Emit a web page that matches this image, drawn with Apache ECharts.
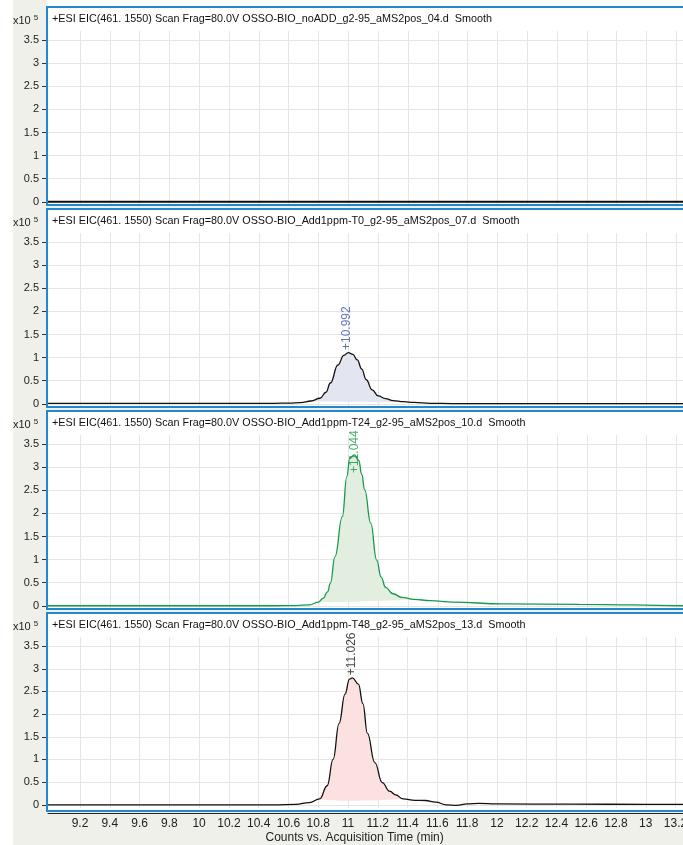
<!DOCTYPE html>
<html><head><meta charset="utf-8">
<script src="https://cdn.jsdelivr.net/npm/echarts@6/dist/echarts.min.js"></script>
<style>html,body{margin:0;padding:0;background:#fff;overflow:hidden;width:683px;height:845px}#c{width:720px;height:845px}</style>
</head><body><div id="c"></div><script>
// ---- data ----
const panelTitles = [
  '+ESI EIC(461. 1550) Scan Frag=80.0V OSSO-BIO_noADD_g2-95_aMS2pos_04.d  Smooth',
  '+ESI EIC(461. 1550) Scan Frag=80.0V OSSO-BIO_Add1ppm-T0_g2-95_aMS2pos_07.d  Smooth',
  '+ESI EIC(461. 1550) Scan Frag=80.0V OSSO-BIO_Add1ppm-T24_g2-95_aMS2pos_10.d  Smooth',
  '+ESI EIC(461. 1550) Scan Frag=80.0V OSSO-BIO_Add1ppm-T48_g2-95_aMS2pos_13.d  Smooth'
];
const xTickValues = [9.2,9.4,9.6,9.8,10,10.2,10.4,10.6,10.8,11,11.2,11.4,11.6,11.8,12,12.2,12.4,12.6,12.8,13,13.2,13.4];
const yTickValues = [0,0.5,1,1.5,2,2.5,3,3.5];
const xName = 'Counts vs. Acquisition Time (min)';

const time1 = [8.985, 10, 11, 12, 13, 13.44];
const val1  = [0, 0, 0, 0, 0, 0];

const time2 = [8.985, 9.5, 10.0, 10.5, 10.6, 10.68, 10.75, 10.81, 10.85, 10.88, 10.93, 10.97, 11.0, 11.03, 11.06, 11.09, 11.12, 11.16, 11.2, 11.25, 11.3, 11.37, 11.44, 11.55, 11.7, 12.0, 12.5, 13.0, 13.44];
const val2  = [0.01, 0.01, 0.01, 0.01, 0.015, 0.025, 0.06, 0.12, 0.25, 0.45, 0.84, 1.05, 1.11, 1.07, 0.95, 0.75, 0.52, 0.3, 0.17, 0.11, 0.07, 0.045, 0.03, 0.01, 0.005, 0.005, 0.005, 0.005, 0.005];

const time3 = [8.985, 9.5, 10.0, 10.5, 10.65, 10.74, 10.8, 10.83, 10.86, 10.88, 10.91, 10.96, 10.99, 11.01, 11.04, 11.07, 11.09, 11.11, 11.15, 11.19, 11.22, 11.25, 11.3, 11.36, 11.44, 11.55, 11.7, 12.04, 12.55, 12.9, 13.25, 13.44];
const val3  = [0, 0, 0, 0, 0.005, 0.02, 0.08, 0.16, 0.3, 0.49, 1.06, 1.93, 2.8, 3.2, 3.27, 3.15, 2.85, 2.51, 1.79, 0.99, 0.62, 0.4, 0.26, 0.18, 0.14, 0.11, 0.08, 0.04, 0.03, 0.02, 0.0, 0.0];

const time4 = [8.985, 9.5, 10.0, 10.5, 10.65, 10.74, 10.81, 10.86, 10.9, 10.94, 10.98, 11.01, 11.03, 11.07, 11.1, 11.13, 11.18, 11.23, 11.28, 11.32, 11.37, 11.45, 11.52, 11.59, 11.66, 11.73, 11.8, 11.88, 12.0, 12.5, 13.0, 13.44];
const val4  = [0, 0, 0, 0, 0.01, 0.05, 0.13, 0.42, 1.0, 1.79, 2.44, 2.77, 2.8, 2.66, 2.23, 1.58, 0.93, 0.49, 0.3, 0.22, 0.13, 0.1, 0.095, 0.06, 0.0, -0.01, 0.02, 0.03, 0.02, 0.015, 0.01, 0.01];

// integration windows (panel 2..4)
const integStart = [null, 10.75, 10.76, 10.76];
const integEnd   = [null, 11.44, 11.44, 11.37];
// peak labels
const peakText   = [null, '+10.992', '+11.044', '+11.026'];
const peakTime   = [null, 10.992, 11.044, 11.026];
const peakLabelY = [null, 1.11, 2.82, 2.8];

// ---- style / layout ----
const STEP = 202, FRAME_TOP = 7, GRID_TOP = 31, GRID_H = 174;
const X_MIN = 8.985, X_MAX = 13.44, Y_MIN = -0.07, Y_MAX = 3.7;
const BLUE = '#2387cf', GRAY_BG = '#f0f0eb';
const lineColors = ['#111', '#111', '#16994a', '#111'];
const fillColors = [null, '#e3e6f1', '#e2eee0', '#fbe1df'];
const labelColors = [null, '#3f51a8', '#16994a', '#111'];
const FONT = 'Liberation Sans, Arial, sans-serif';
const NARROW = 'Liberation Sans Narrow, Liberation Sans, Arial';

const times = [time1, time2, time3, time4];
const vals = [val1, val2, val3, val4];

const grids = [], xAxes = [], yAxes = [], series = [], titles = [], graphics = [];
graphics.push({type:'rect', z:-20, silent:true, shape:{x:13, y:0, width:720, height:845}, style:{fill:GRAY_BG}});
graphics.push({type:'rect', z:-19, silent:true, shape:{x:47, y:0, width:700, height:FRAME_TOP}, style:{fill:'#fff'}});

for (let k = 0; k < 4; k++) {
  const off = k * STEP;
  grids.push({left: 48, right: 8, top: GRID_TOP + off, height: GRID_H});
  const last = k === 3;
  xAxes.push({
    type:'value', gridIndex:k, min:X_MIN, max:X_MAX,
    axisLine:{show:last, onZero:false, lineStyle:{color:'#222', width:1}},
    offset: last ? 5 : 0,
    axisTick:{show:false, customValues:xTickValues},
    axisLabel:{show:last, customValues:xTickValues, fontSize:12, color:'#222', margin:5, fontFamily:NARROW},
    splitLine:{show:true, lineStyle:{color:'#e5e5e2', width:1}},
    name: last ? xName : '', nameLocation:'middle', nameGap:19,
    nameTextStyle:{fontSize:12, color:'#222', fontFamily:NARROW, padding:[0,50,0,0]}
  });
  yAxes.push({
    type:'value', gridIndex:k, min:Y_MIN, max:Y_MAX,
    axisLine:{show:false},
    axisTick:{show:true, length:6, customValues:yTickValues, lineStyle:{color:'#333'}},
    axisLabel:{show:true, customValues:yTickValues, fontSize:11, color:'#222', margin:9, fontFamily:FONT},
    splitLine:{show:true, lineStyle:{color:'#e5e5e2', width:1}}
  });
  // frame
  graphics.push({type:'rect', z:-10, silent:true, shape:{x:47, y:FRAME_TOP+off, width:700, height:198}, style:{fill:'#fff'}});
  graphics.push({type:'rect', z:50, silent:true, shape:{x:47, y:FRAME_TOP+off, width:700, height:198}, style:{fill:null, stroke:BLUE, lineWidth:2}});
  titles.push({text:panelTitles[k], left:52, top:FRAME_TOP+off+7, padding:0,
    textStyle:{fontSize:10.8, fontWeight:'normal', color:'#111', fontFamily:FONT}});
  titles.push({text:'{a|x10} {b|5}', left:13, top:FRAME_TOP+off+7, padding:0,
    textStyle:{fontFamily:FONT, fontWeight:'normal', fontSize:11, rich:{
      a:{fontSize:11, fontWeight:'normal', color:'#222', lineHeight:13, fontFamily:FONT},
      b:{fontSize:8, fontWeight:'normal', color:'#222', verticalAlign:'top', padding:[0,0,6,0], fontFamily:FONT}}}});

  const data = times[k].map((t, i) => [t, vals[k][i]]);
  if (fillColors[k]) {
    const fillPts = data.filter(p => p[0] >= integStart[k] && p[0] <= integEnd[k]);
    const fc = fillColors[k];
    series.push({
      type:'custom', xAxisIndex:k, yAxisIndex:k, silent:true, z:1,
      data: fillPts,
      renderItem: (params, api) => {
        if (params.dataIndex !== 0) return null;
        return {type:'polygon', shape:{points: fillPts.map(p => api.coord(p)), smooth:0.3}, style:{fill:fc}};
      }
    });
  }
  series.push({
    type:'line', xAxisIndex:k, yAxisIndex:k, data, showSymbol:false, silent:true,
    smooth:0.45, smoothMonotone:'x', z:3,
    lineStyle:{color:lineColors[k], width: k === 0 ? 1.8 : 1.3}
  });
  if (peakText[k]) {
    const txt = peakText[k];
    series.push({
      type:'scatter', xAxisIndex:k, yAxisIndex:k, silent:true, z:5,
      symbolSize:1, itemStyle:{color:'rgba(0,0,0,0)'},
      data:[[peakTime[k], peakLabelY[k]]],
      label:{show:true, position:'top', distance:2, rotate:90, align:'left', verticalAlign:'middle',
        formatter: () => txt, fontSize:12, color:labelColors[k], fontFamily:FONT}
    });
  }
}

const chart = echarts.init(document.getElementById('c'), null, {renderer:'canvas'});
chart.setOption({
  backgroundColor:'#fff',
  animation:false,
  title: titles,
  grid: grids,
  xAxis: xAxes,
  yAxis: yAxes,
  series,
  graphic: graphics
});
</script></body></html>
